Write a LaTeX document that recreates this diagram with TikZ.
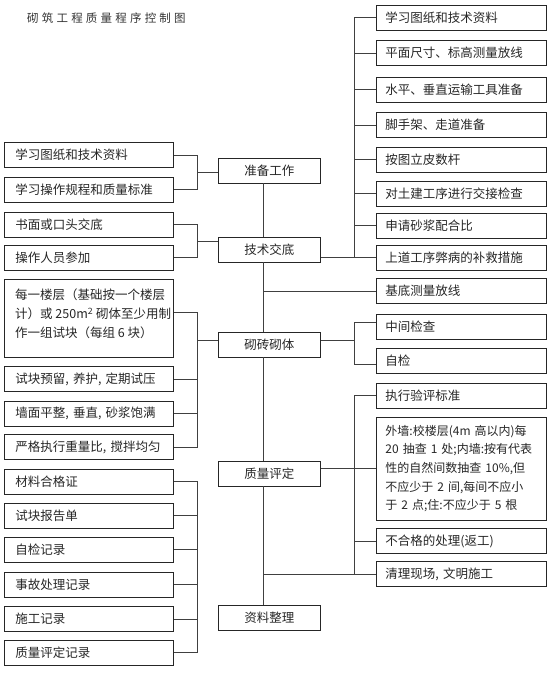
\documentclass[tikz,border=0pt]{standalone}
\usepackage{fontspec}
\setmainfont{Noto Sans CJK SC}
\begin{document}
\begin{tikzpicture}[x=1pt,y=-1pt,
  bx/.style={draw=black!85, line width=0.9pt, inner sep=0pt, minimum height=25pt,
    text=black!85, font=\fontsize{12.5}{15}\selectfont},
  lb/.style={bx, anchor=west, minimum width=169pt, text width=147pt, inner xsep=11pt, align=left},
  rb/.style={bx, anchor=west, minimum width=170pt, text width=152pt, inner xsep=9pt, align=left},
  cb/.style={bx, anchor=west, minimum width=102pt, align=center},
  ln/.style={draw=black!75, line width=0.85pt}
]
\useasboundingbox (0,0) rectangle (555,673);

% title
\node[anchor=west, inner sep=0pt, text=black!80, font=\fontsize{11.5}{13}\selectfont] (T) at (27,18)
  {砌\hspace{3.2pt}筑\hspace{3.2pt}工\hspace{3.2pt}程\hspace{3.2pt}质\hspace{3.2pt}量\hspace{3.2pt}程\hspace{3.2pt}序\hspace{3.2pt}控\hspace{3.2pt}制\hspace{3.2pt}图};

% central boxes
\node[cb] (C1) at (218,170.5) {准备工作};
\node[cb] (C2) at (218,249.5) {技术交底};
\node[cb] (C3) at (218,344.5) {砌砖砌体};
\node[cb] (C4) at (218,473.5) {质量评定};
\node[cb] (C5) at (218,618) {资料整理};

% left boxes
\node[lb] (L1) at (4,155) {学习图纸和技术资料};
\node[lb] (L2) at (4,189.5) {学习操作规程和质量标准};
\node[lb] (L3) at (4,224.5) {书面或口头交底};
\node[lb] (L4) at (4,257.5) {操作人员参加};
\node[lb, minimum height=78pt] (L5) at (4,318) {};
\node[anchor=north west, inner sep=0pt, align=left, text=black!85, font=\fontsize{12.5}{19}\selectfont] (L5t) at (15,288.5)
  {每一楼层（基础按一个楼层\\计）或 250m\textsuperscript{2} 砌体至少用制\\作一组试块（每组 6 块）};
\node[lb] (L6) at (4,379) {试块预留, 养护, 定期试压};
\node[lb] (L7) at (4,413.5) {墙面平整, 垂直, 砂浆饱满};
\node[lb] (L8) at (4,447) {严格执行重量比, 搅拌均匀};

\node[lb] (M1) at (4,481.5) {材料合格证};
\node[lb] (M2) at (4,515.5) {试块报告单};
\node[lb] (M3) at (4,549.5) {自检记录};
\node[lb] (M4) at (4,584.5) {事故处理记录};
\node[lb] (M5) at (4,619) {施工记录};
\node[lb] (M6) at (4,652.5) {质量评定记录};

% right boxes
\node[rb] (R1) at (376,17.5) {学习图纸和技术资料};
\node[rb] (R2) at (376,53) {平面尺寸、标高测量放线};
\node[rb] (R3) at (376,89.5) {水平、垂直运输工具准备};
\node[rb] (R4) at (376,125) {脚手架、走道准备};
\node[rb] (R5) at (376,159.5) {按图立皮数杆};
\node[rb] (R6) at (376,193.5) {对土建工序进行交接检查};
\node[rb] (R7) at (376,225.5) {申请砂浆配合比};
\node[rb] (R8) at (376,257.5) {上道工序弊病的补救措施};
\node[rb] (R9) at (376,291) {基底测量放线};
\node[rb] (R10) at (376,327) {中间检查};
\node[rb] (R11) at (376,361) {自检};
\node[rb] (R12) at (376,395.5) {执行验评标准};
\node[rb, minimum height=103pt, text width=160pt, inner xsep=5pt, font=\fontsize{12}{18.6}\selectfont] (R13) at (376,468.5)
  {\hspace*{4pt}\mbox{外墙:校楼层(4m 高以内)每}\\\hspace*{4pt}\mbox{20 抽查 1 处;内墙:按有代表}\\\hspace*{4pt}\mbox{性的自然间数抽查 10\%,但}\\\hspace*{4pt}\mbox{不应少于 2 间,每间不应小}\\\hspace*{4pt}\mbox{于 2 点;住:不应少于 5 根}};
\node[rb] (R14) at (376,541) {不合格的处理(返工)};
\node[rb] (R15) at (376,574) {清理现场, 文明施工};

% helper coordinates
\coordinate (sp) at (263,0);
\coordinate (lv) at (197,0);
\coordinate (rv) at (354,0);

% spine
\draw[ln] (C1.south -| sp) -- (C2.north -| sp);
\draw[ln] (C2.south -| sp) -- (C3.north -| sp);
\draw[ln] (C3.south -| sp) -- (C4.north -| sp);
\draw[ln] (C4.south -| sp) -- (C5.north -| sp);

% left bracket A
\coordinate (jA) at (197,172);
\draw[ln] (L1.east) -- (L1.east -| lv) -- (L2.east -| lv) -- (L2.east);
\draw[ln] (jA) -- (jA -| C1.west);
% left bracket B
\coordinate (jB) at (197,241);
\draw[ln] (L3.east) -- (L3.east -| lv) -- (L4.east -| lv) -- (L4.east);
\draw[ln] (jB) -- (jB -| C2.west);
% left bracket C
\coordinate (c5) at (197,312);
\coordinate (jC) at (197,340);
\draw[ln] (L5.east |- c5) -- (c5) -- (c5 |- L8.east) -- (L8.east);
\draw[ln] (L6.east) -- (L6.east -| lv);
\draw[ln] (L7.east) -- (L7.east -| lv);
\draw[ln] (jC) -- (jC -| C3.west);
% records bracket
\draw[ln] (M1.east) -- (M1.east -| lv) -- (M6.east -| lv) -- (M6.east);
\draw[ln] (M2.east) -- (M2.east -| lv);
\draw[ln] (M3.east) -- (M3.east -| lv);
\draw[ln] (M4.east) -- (M4.east -| lv);
\draw[ln] (M5.east) -- (M5.east -| lv);

% right top bracket
\draw[ln] (R1.west) -- (R1.west -| rv) -- (R8.west -| rv);
\draw[ln] (C2.east |- R8.west) -- (R8.west);
\foreach \n in {R2,R3,R4,R5,R6,R7} \draw[ln] (\n.west) -- (\n.west -| rv);
% branch to R9
\draw[ln] (R9.west -| sp) -- (R9.west);
% C3 right bracket
\coordinate (k) at (354,340);
\coordinate (k1) at (354,322);
\coordinate (k2) at (354,364);
\draw[ln] (C3.east |- k) -- (k);
\draw[ln] (k1 -| R10.west) -- (k1) -- (k2) -- (k2 -| R11.west);
% C4 right bracket
\draw[ln] (R12.west) -- (R12.west -| rv) -- (R15.west -| rv);
\draw[ln] (C4.east |- R13.west) -- (R13.west);
\draw[ln] (R14.west -| rv) -- (R14.west);
\draw[ln] (R15.west -| sp) -- (R15.west);
\end{tikzpicture}
\end{document}
